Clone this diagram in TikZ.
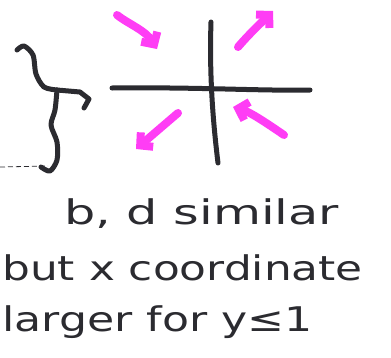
\documentclass[tikz,border=0pt]{standalone}
\usepackage{fontspec}
\setmainfont{DejaVu Sans}
\usepackage{xcolor}
\usetikzlibrary{arrows.meta}
\definecolor{ink}{HTML}{2B2B30}
\definecolor{marker}{HTML}{FF3DF5}

\begin{document}
\begin{tikzpicture}[x=1pt, y=-1pt,
  pen/.style={line width=5pt, line cap=round, line join=round, ink},
  hl/.style={line width=8pt, line cap=round, line join=round, marker,
    -{Straight Barb[length=9pt, width=19pt, line width=8pt]}},
  note/.style={anchor=base west, inner sep=0pt, ink, font=\fontsize{34}{40}\selectfont}]
\useasboundingbox (0,0) rectangle (391,357);
% the cross
\coordinate (hl) at (112,88);
\coordinate (hr) at (310,90);
\coordinate (vt) at (211,22);
\coordinate (vb) at (218,163);
\draw[pen] (hl) .. controls (200,87) and (260,91) .. (hr);
\draw[pen] (vt) .. controls (209,80) and (214,130) .. (vb);
% magenta arrows round the cross
\coordinate (a1) at (117,15);  \coordinate (b1) at (157,49);
\coordinate (a2) at (238,47);  \coordinate (b2) at (273,11);
\coordinate (a3) at (178,113); \coordinate (b3) at (136,149);
\coordinate (a4) at (284,135); \coordinate (b4) at (233,107);
\draw[hl] (a1) .. controls (130,25) and (145,30) .. (b1);
\draw[hl] (a2) .. controls (250,33) and (262,22) .. (b2);
\draw[hl] (a3) -- (b3);
\draw[hl] (a4) .. controls (265,122) and (250,112) .. (b4);
% brace with its arrow
\coordinate (tip) at (57,90);
\coordinate (tgt) at (89,99);
\draw[pen] plot[smooth] coordinates {(17,50) (24,46) (33,55) (36,74) (44,87) (tip)};
\draw[pen] plot[smooth] coordinates {(tip) (55,110) (51,125) (57,142) (57,160) (50,171) (41,167)};
\draw[pen] (tip) -- (80,92) -- (tgt) -- (84,108);
\draw[ink, line width=0.8pt, dash pattern=on 5pt off 3pt] (0,167) -- (48,166);
% notes
\node[note, xscale=1.45] (l1) at (64,224) {b, d similar};
\node[note, xscale=1.29] (l2) at (2,280) {but x coordinate};
\node[note, xscale=1.3] (l3) at (2,331) {larger for y≤1};
\end{tikzpicture}
\end{document}
